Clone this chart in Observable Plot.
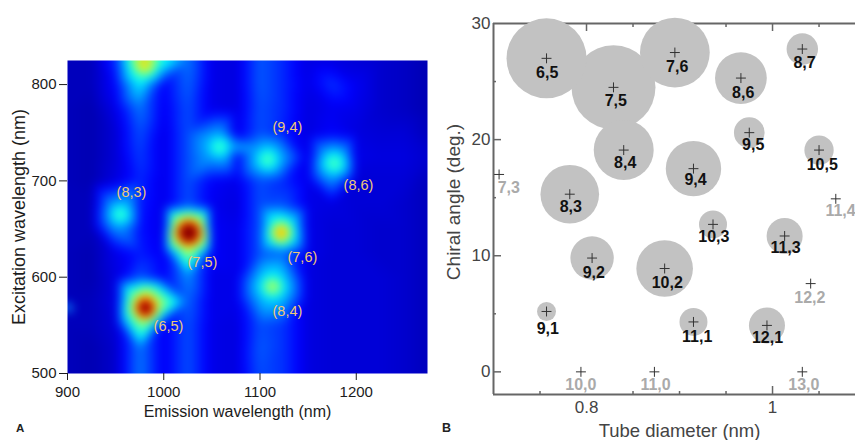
<!DOCTYPE html>
<html><head><meta charset="utf-8">
<script src="https://cdn.jsdelivr.net/npm/d3@7"></script>
<script src="https://cdn.jsdelivr.net/npm/@observablehq/plot@0.6"></script>
<style>
html,body{margin:0;background:#fff}
#page{position:relative;width:855px;height:440px;overflow:hidden;font-family:"Liberation Sans",Arial,sans-serif}
#page svg{position:absolute;top:0;overflow:visible;background:transparent}
.tag{position:absolute;font-weight:bold;color:#222}
</style></head>
<body><div id="page"></div>
<script>
// Panel A: photoluminescence map
const emission = [900,925,950,975,1000,1025,1050,1075,1100,1125,1150,1175,1200,1225,1250,1275];
const excitation = [500,525,550,575,600,625,650,675,700,725,750,775,800,825];
const intensity = [
 [.05,.04,.07,.24,.11,.2,.1,.09,.2,.17,.09,.08,.08,.08,.07,.05],
 [.05,.04,.07,.24,.11,.2,.1,.09,.21,.17,.09,.08,.08,.08,.07,.05],
 [.05,.05,.08,.24,.11,.2,.1,.09,.2,.17,.09,.08,.08,.08,.07,.05],
 [.05,.05,.09,.24,.12,.22,.1,.1,.22,.2,.09,.08,.08,.08,.07,.05],
 [.05,.04,.09,.2,.12,.26,.1,.1,.22,.2,.09,.08,.08,.08,.07,.05],
 [.05,.04,.1,.15,.11,.26,.12,.1,.2,.22,.1,.08,.08,.07,.07,.05],
 [.05,.05,.12,.14,.1,.2,.12,.1,.2,.2,.1,.08,.08,.07,.07,.05],
 [.05,.05,.12,.15,.1,.2,.11,.09,.2,.2,.1,.09,.08,.08,.07,.05],
 [.05,.04,.09,.16,.1,.2,.12,.1,.2,.16,.1,.12,.08,.08,.08,.05],
 [.05,.04,.08,.18,.1,.2,.14,.12,.15,.14,.1,.12,.1,.09,.09,.07],
 [.05,.04,.08,.2,.1,.2,.14,.1,.2,.15,.09,.12,.09,.08,.08,.05],
 [.05,.04,.1,.24,.11,.2,.1,.09,.2,.16,.09,.11,.1,.07,.06,.04],
 [.05,.05,.13,.36,.12,.22,.1,.09,.21,.16,.1,.17,.11,.07,.06,.04],
 [.05,.05,.17,.5,.14,.24,.1,.09,.21,.16,.09,.09,.08,.07,.06,.04]
];
const peakEmission   = [981,1026,1122,1113,955,1108,1177,1058,980];
const peakExcitation = [568,646,646,590,665,722,718,735,823];
const peakIntensity  = [1.25,1.45,.8,.6,.47,.49,.49,.47,.76];
const peakHalfWidth  = [14,15,14,14,13,14,14,13,14];
// readings around each spot, clockwise from above it
const peakShoulders  = [
 [.62,.57,.54,.52,.54,.52,.54,.57],
 [.64,.64,.62,.62,.62,.62,.62,.64],
 [.41,.39,.37,.37,.39,.37,.37,.39],
 [.35,.34,.34,.33,.33,.33,.34,.34],
 [.29,.29,.28,.28,.28,.28,.28,.29],
 [.31,.3,.3,.29,.29,.29,.3,.3],
 [.31,.3,.3,.29,.29,.29,.3,.3],
 [.3,.3,.3,.29,.29,.29,.3,.3],
 [.5,.46,.43,.43,.45,.43,.43,.46]
];
const peakLabels = ["(8,3)","(9,4)","(8,6)","(7,5)","(7,6)","(6,5)","(8,4)"];
const peakLabelEmission   = [966.5,1128.5,1202.3,1040.2,1144,1004.9,1128.5];
const peakLabelExcitation = [688.1,755.8,695.5,615.7,620.9,549.1,564.3];
const edgeEmission = [966,994,901,901,901,908];
const edgeExcitation = [825,825,568,577,559,568];
const edgeIntensity = [.43,.43,.6,.05,.05,.05];

// Panel B: chirality map
const chirality = ["6,5","7,5","7,6","8,6","8,7","9,5","10,5","9,4","8,4","8,3","7,3","11,4","10,3","11,3","12,2","10,2","9,2","9,1","11,1","12,1","10,0","11,0","13,0"];
const diameter = [.757,.829,.895,.966,1.032,.975,1.05,.915,.84,.782,.706,1.068,.936,1.013,1.041,.884,.806,.757,.915,.994,.794,.873,1.032];
const angle = [27,24.5,27.5,25.3,27.8,20.6,19.1,17.5,19.1,15.3,17,14.9,12.7,11.7,7.6,8.9,9.8,5.2,4.3,4,0,0,0];
const abundance = [90.7,100,69,38,14,13.3,12.2,43.5,51,48.7,0,0,11.1,18.4,0,45.4,26.7,5.1,11.1,18.4,0,0,0];
const labelDiameter = [.7577,.8315,.8975,.9685,1.0344,.9792,1.0534,.9172,.8416,.7831,.7165,1.0731,.9369,1.014,1.0401,.8868,.8078,.7584,.919,.9946,.7939,.8742,1.0337];
const labelAngle = [25.71,23.34,26.23,23.99,26.6,19.55,17.86,16.54,17.97,14.22,15.82,13.84,11.61,10.66,6.4,7.69,8.55,3.67,3.01,2.92,-1.14,-1.14,-1.14];

const samples = [];
excitation.forEach((y,j)=>emission.forEach((x,i)=>{
  const near = peakEmission.some((px,k)=>Math.hypot(x-px,y-peakExcitation[k])<peakHalfWidth[k]*1.5);
  if(!near) samples.push({x,y,v:intensity[j][i]});
}));
peakEmission.forEach((x,i)=>{
  samples.push({x,y:Math.min(peakExcitation[i],825),v:peakIntensity[i]});
  peakShoulders[i].forEach((v,k)=>{
    const t=k*Math.PI/4, sx=x+peakHalfWidth[i]*Math.sin(t), sy=peakExcitation[i]+peakHalfWidth[i]*Math.cos(t);
    if(sy<=825) samples.push({x:sx,y:sy,v});
  });
});
edgeEmission.forEach((x,i)=>samples.push({x,y:edgeExcitation[i],v:edgeIntensity[i]}));

const peakText = peakLabels.map((t,i)=>({t,x:peakLabelEmission[i],y:peakLabelExcitation[i]}));
const tubes = chirality.map((name,i)=>({name,d:diameter[i],a:angle[i],n:abundance[i],ld:labelDiameter[i],la:labelAngle[i]}));

const ink = "#1c1c1c";
const panelA = Plot.plot({
  width:435, height:440,
  marginLeft:67, marginRight:8, marginTop:60, marginBottom:67,
  x:{domain:[900,1274]},
  y:{domain:[500,825]},
  color:{type:"linear",domain:[0,.125,.375,.625,.875,1],range:["#00008f","#0000ff","#00ffff","#ffff00","#ff0000","#800000"],interpolate:"rgb",clamp:true},
  style:{background:"transparent",fontFamily:"'Liberation Sans',Arial,sans-serif"},
  marks:[
    Plot.raster(samples,{x:"x",y:"y",fill:"v",interpolate:"barycentric",blur:4,pixelSize:1}),
    Plot.axisX({ticks:[900,1000,1100,1200],tickSize:7,tickPadding:6,fontSize:15,color:ink,label:null,tickFormat:d=>String(d)}),
    Plot.axisY({ticks:[500,600,700,800],tickSize:8,tickPadding:3,fontSize:15,color:ink,label:null,tickFormat:d=>String(d)}),
    Plot.text(peakText,{x:"x",y:"y",text:"t",fill:"#efc878",fontSize:14.5}),
    Plot.text(["Emission wavelength (nm)"],{x:1076.6,frameAnchor:"bottom",textAnchor:"middle",dy:43,fontSize:16,fill:ink,text:d=>d}),
    Plot.text(["Excitation wavelength (nm)"],{frameAnchor:"left",textAnchor:"middle",dx:-48,fontSize:18,fill:ink,rotate:-90,text:d=>d})
  ]
});
const frameColor = "#666";
const panelB = Plot.plot({
  width:425, height:440,
  marginLeft:63, marginRight:0, marginTop:23, marginBottom:46,
  x:{domain:[.7,1.0892]},
  y:{domain:[-1.95,30]},
  r:{type:"sqrt",domain:[0,100],range:[0,42]},
  style:{background:"transparent",fontFamily:"'Liberation Sans',Arial,sans-serif"},
  marks:[
    Plot.ruleY([30,-1.95],{stroke:frameColor,strokeWidth:2}),
    Plot.ruleX([.7],{stroke:frameColor,strokeWidth:2}),
    Plot.axisX({ticks:[1],anchor:"bottom",tickSize:-8,stroke:frameColor,strokeWidth:1.5,strokeOpacity:1,fill:"none"}),
    Plot.axisX({ticks:[.75,.85,.9,.95,1.05],anchor:"bottom",tickSize:-3,stroke:frameColor,strokeWidth:1.5,strokeOpacity:1,fill:"none"}),
    Plot.axisX({ticks:[.8,1],anchor:"top",tickSize:-7,stroke:frameColor,strokeWidth:1.5,strokeOpacity:1,fill:"none"}),
    Plot.axisX({ticks:[.85,.95,1.05],anchor:"top",tickSize:-3,stroke:frameColor,strokeWidth:1.5,strokeOpacity:1,fill:"none"}),
    Plot.axisY({ticks:[0,10,20],anchor:"left",tickSize:-8,stroke:frameColor,strokeWidth:1.5,strokeOpacity:1,fill:"none"}),
    Plot.axisY({ticks:[5,15,25],anchor:"left",tickSize:-3,stroke:frameColor,strokeWidth:1.5,strokeOpacity:1,fill:"none"}),
    Plot.axisX({ticks:[.8,1],anchor:"bottom",tickSize:0,tickPadding:6,fontSize:17,color:"#444",label:null,tickFormat:d=>d===1?"1":"0.8"}),
    Plot.axisY({ticks:[0,10,20,30],anchor:"left",tickSize:0,tickPadding:3,fontSize:17,color:"#444",label:null,tickFormat:d=>String(d)}),
    Plot.dot(tubes.filter(d=>d.n>0),{x:"d",y:"a",r:"n",fill:"#c2c2c2",stroke:"none"}),
    Plot.dot(tubes,{x:"d",y:"a",symbol:"plus",r:3.3,stroke:"#333",strokeWidth:1}),
    Plot.text(tubes,{x:"ld",y:"la",text:"name",fontSize:16,fontWeight:"bold",fill:d=>d.n>0?"#111":"#aaa"}),
    Plot.text(["Tube diameter (nm)"],{x:.9,frameAnchor:"bottom",textAnchor:"middle",dy:42,fontSize:18.5,fill:"#444",text:d=>d}),
    Plot.text(["Chiral angle (deg.)"],{frameAnchor:"left",textAnchor:"middle",dx:-40,dy:-7,fontSize:19,fill:"#444",rotate:-90,text:d=>d})
  ]
});
const page = document.getElementById("page");
panelA.style.left = "0px";
panelB.style.left = "430px";
page.append(panelA,panelB);
for (const [t,l,tp,s] of [["A",16,422,11.5],["B",442,421,12.5]]) {
  const e=document.createElement("div"); e.className="tag"; e.textContent=t;
  e.style.left=l+"px"; e.style.top=tp+"px"; e.style.fontSize=s+"px"; page.append(e);
}
</script></body></html>
